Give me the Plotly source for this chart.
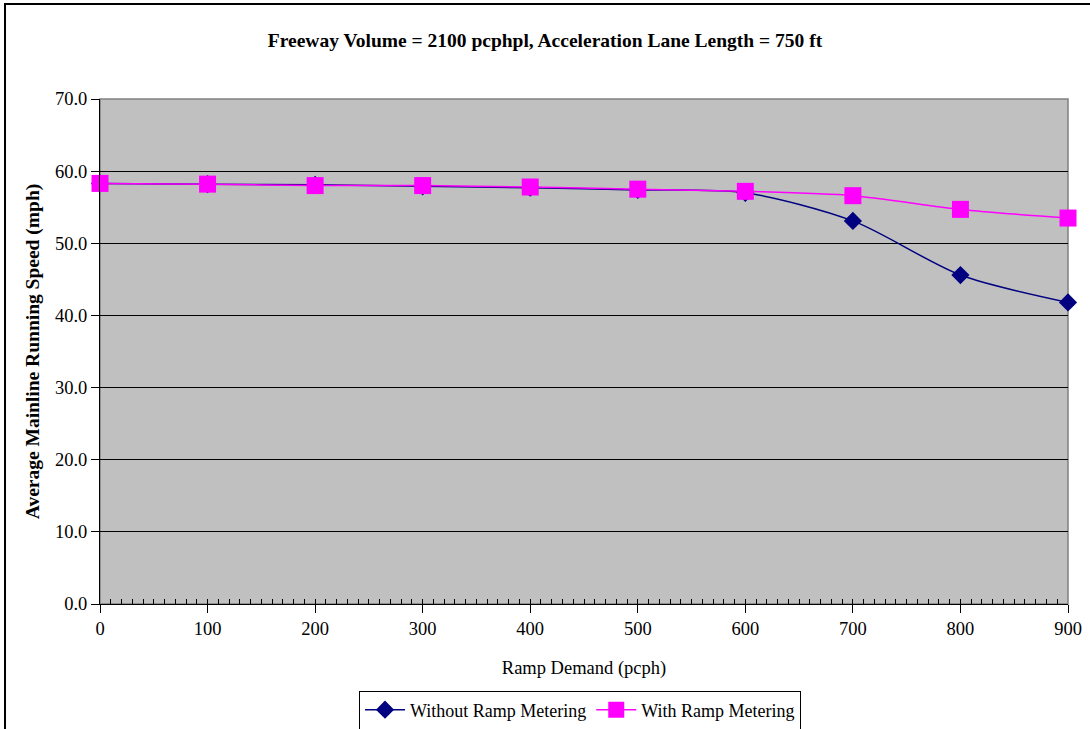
import plotly.graph_objects as go

# Ramp demand levels (pcph)
ramp_demand = [0, 100, 200, 300, 400, 500, 600, 700, 800, 900]

# Average mainline running speed (mph)
speed_without_metering = [58.3, 58.2, 58.1, 57.9, 57.7, 57.4, 57.0, 53.1, 45.6, 41.8]
speed_with_metering = [58.3, 58.2, 58.0, 58.0, 57.8, 57.5, 57.2, 56.6, 54.7, 53.5]

y_ticks = [0, 10, 20, 30, 40, 50, 60, 70]
x_ticks = [0, 100, 200, 300, 400, 500, 600, 700, 800, 900]

W, H = 1090, 729
L, R, T, B = 100, 22, 99, 125
PW, PH = W - L - R, H - T - B

SERIF = "Liberation Serif, Times New Roman, serif"


def px_x(p):
    return (p - L) / PW


def px_y(p):
    return (H - B - p) / PH


fig = go.Figure()

fig.add_trace(go.Scatter(
    x=ramp_demand, y=speed_without_metering,
    name="Without Ramp Metering",
    mode="lines+markers",
    line=dict(color="#000080", width=1.5, shape="spline", smoothing=0.8),
    marker=dict(symbol="diamond", size=14, color="#000080"),
    cliponaxis=False,
))
fig.add_trace(go.Scatter(
    x=ramp_demand, y=speed_with_metering,
    name="With Ramp Metering",
    mode="lines+markers",
    line=dict(color="#FF00FF", width=1.5, shape="spline", smoothing=0.8),
    marker=dict(symbol="square", size=17, color="#FF00FF"),
    cliponaxis=False,
))
# helper trace so the tick-only overlay axis gets drawn
fig.add_trace(go.Scatter(x=[0, 900], y=[0, 0], xaxis="x2", mode="none",
                         showlegend=False, hoverinfo="skip"))

fig.update_layout(
    width=W, height=H,
    margin=dict(l=L, r=R, t=T, b=B, autoexpand=False),
    paper_bgcolor="white",
    plot_bgcolor="#C0C0C0",
    font=dict(family=SERIF, size=18, color="black"),
    title=dict(
        text="<b>Freeway Volume = 2100 pcphpl, Acceleration Lane Length = 750 ft</b>",
        x=0.5, xref="container", xanchor="center",
        y=1 - 40 / H, yref="container", yanchor="middle",
        font=dict(family=SERIF, size=19.5, color="black"),
    ),
    xaxis=dict(
        range=[0, 900], tickvals=x_ticks,
        ticks="outside", ticklen=8, tickcolor="black", tickwidth=1,
        showline=True, linecolor="black", linewidth=1,
        showgrid=False, zeroline=False,
        title=dict(text="Ramp Demand (pcph)", standoff=22,
                   font=dict(family=SERIF, size=18.5)),
        tickfont=dict(family=SERIF, size=18.5),
    ),
    xaxis2=dict(
        range=[0, 900], overlaying="x", anchor="y", side="bottom",
        tick0=0, dtick=10, ticks="inside", ticklen=5, tickcolor="black",
        showticklabels=False, showgrid=False, zeroline=False, showline=False,
    ),
    yaxis=dict(
        range=[0, 70], tickvals=y_ticks, tickformat=".1f",
        ticks="outside", ticklen=8, tickcolor="black", tickwidth=1,
        showline=True, linecolor="black", linewidth=1,
        showgrid=True, gridcolor="black", gridwidth=1,
        zeroline=False,
        title=dict(text="<b>Average Mainline Running Speed (mph)</b>", standoff=10,
                   font=dict(family=SERIF, size=19.5)),
        tickfont=dict(family=SERIF, size=18.5),
    ),
    legend=dict(
        orientation="h",
        x=px_x(580), xanchor="center",
        y=px_y(710), yanchor="middle",
        bordercolor="black", borderwidth=1, bgcolor="white",
        font=dict(family=SERIF, size=18),
        itemwidth=40,
    ),
    shapes=[
        # grey frame around the plotting area
        dict(type="rect", xref="paper", yref="paper", x0=0, x1=1, y0=0, y1=1,
             line=dict(color="#808080", width=1.5), layer="between"),
        # outer chart border
        dict(type="rect", xref="paper", yref="paper",
             x0=px_x(5), x1=px_x(W + 10), y0=px_y(H + 10), y1=px_y(4),
             line=dict(color="black", width=2), layer="above"),
    ],
)

fig.write_html("out.html")
